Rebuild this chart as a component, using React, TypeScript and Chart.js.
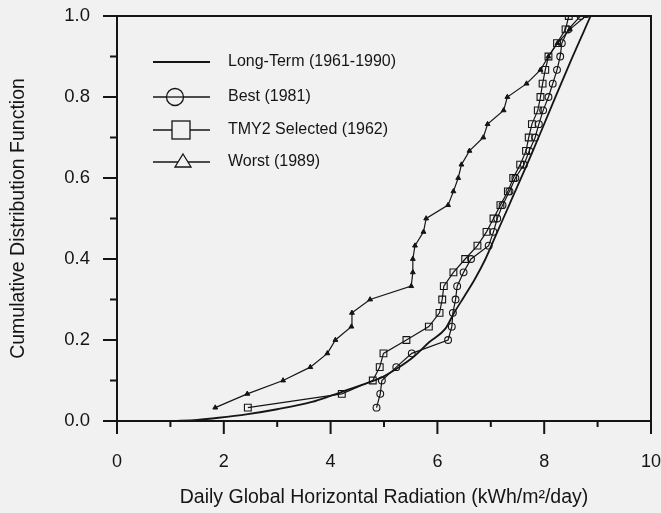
import React, { useEffect, useRef } from "react";
import { Chart, registerables } from "chart.js";

Chart.register(...registerables);

// Cumulative fraction levels (one step per day of a 30-day month)
const cumulativeFraction = [
  0.033, 0.067, 0.1, 0.133, 0.167, 0.2, 0.233, 0.267, 0.3, 0.333,
  0.367, 0.4, 0.433, 0.467, 0.5, 0.533, 0.567, 0.6, 0.633, 0.667,
  0.7, 0.733, 0.767, 0.8, 0.833, 0.867, 0.9, 0.933, 0.967, 1.0,
];

const bestRadiation = [
  4.86, 4.93, 4.96, 5.23, 5.52, 6.2, 6.27, 6.29, 6.34, 6.37,
  6.49, 6.63, 6.96, 7.05, 7.12, 7.22, 7.35, 7.46, 7.62, 7.72,
  7.83, 7.9, 7.98, 8.08, 8.16, 8.24, 8.3, 8.33, 8.45, 8.68,
];

const tmy2Radiation = [
  2.45, 4.21, 4.79, 4.92, 4.99, 5.42, 5.84, 6.04, 6.09, 6.12,
  6.3, 6.52, 6.75, 6.92, 7.05, 7.18, 7.32, 7.42, 7.55, 7.66,
  7.71, 7.77, 7.88, 7.93, 7.97, 8.02, 8.08, 8.24, 8.4, 8.46,
];

const worstRadiation = [
  1.84, 2.44, 3.11, 3.62, 3.94, 4.09, 4.39, 4.4, 4.74, 5.51,
  5.54, 5.54, 5.58, 5.74, 5.79, 6.2, 6.3, 6.39, 6.45, 6.6,
  6.86, 6.94, 7.24, 7.31, 7.67, 7.93, 8.08, 8.25, 8.48, 8.78,
];

const longTermRadiation = [
  1.05, 1.5, 1.9, 2.45, 3.0, 3.65, 4.0, 4.3, 4.6, 4.95, 5.25, 5.55,
  5.85, 6.15, 6.3, 6.5, 6.7, 6.9, 7.1, 7.35, 7.75, 8.1, 8.5, 8.87,
];
const longTermFraction = [
  0.0, 0.003, 0.008, 0.017, 0.029, 0.047, 0.062, 0.076, 0.09, 0.107, 0.13, 0.158,
  0.195, 0.228, 0.264, 0.307, 0.35, 0.4, 0.46, 0.535, 0.655, 0.765, 0.89, 1.0,
];

const seriesNames = [
  "Long-Term (1961-1990)",
  "Best (1981)",
  "TMY2 Selected (1962)",
  "Worst (1989)",
];

const xTitle = "Daily Global Horizontal Radiation (kWh/m\u00B2/day)";
const yTitle = "Cumulative Distribution Function";
const xMinorTicks = [1, 3, 5, 7, 9];
const yMinorTicks = [0.1, 0.3, 0.5, 0.7, 0.9];
const xMajorTicks = [0, 2, 4, 6, 8, 10];
const yMajorTicks = [0, 0.2, 0.4, 0.6, 0.8, 1.0];

const INK = "#151515";
const BG = "#f1f1f1";
const FONT = "'Liberation Sans', Arial, Helvetica, sans-serif";

function pairs(xs: number[], ys: number[]) {
  return xs.map((x, i) => ({ x, y: ys[i] }));
}

const framePlugin = {
  id: "frameAndLegend",
  beforeDraw(chart: any) {
    const ctx = chart.ctx;
    ctx.save();
    ctx.fillStyle = BG;
    ctx.fillRect(0, 0, chart.width, chart.height);
    ctx.restore();
  },
  afterDraw(chart: any) {
    const ctx = chart.ctx;
    const { left, right, top, bottom } = chart.chartArea;
    const xs = chart.scales.x;
    const ys = chart.scales.y;
    ctx.save();
    ctx.strokeStyle = INK;
    ctx.lineWidth = 2;
    // frame top & right
    ctx.beginPath();
    ctx.moveTo(left, top);
    ctx.lineTo(right, top);
    ctx.lineTo(right, bottom);
    ctx.stroke();
    // ticks
    ctx.beginPath();
    yMajorTicks.forEach((v) => {
      const p = ys.getPixelForValue(v);
      ctx.moveTo(left - 14, p);
      ctx.lineTo(left, p);
    });
    yMinorTicks.forEach((v) => {
      const p = ys.getPixelForValue(v);
      ctx.moveTo(left - 7, p);
      ctx.lineTo(left, p);
    });
    xMajorTicks.forEach((v) => {
      const p = xs.getPixelForValue(v);
      ctx.moveTo(p, bottom);
      ctx.lineTo(p, bottom + 13);
    });
    xMinorTicks.forEach((v) => {
      const p = xs.getPixelForValue(v);
      ctx.moveTo(p, bottom);
      ctx.lineTo(p, bottom + 6);
    });
    ctx.stroke();

    // legend
    const rows = [62, 97, 130, 162];
    const x0 = 153;
    const x1 = 210;
    ctx.font = `16px ${FONT}`;
    ctx.textBaseline = "middle";
    ctx.textAlign = "left";
    rows.forEach((ry, i) => {
      ctx.strokeStyle = INK;
      ctx.lineWidth = i === 0 ? 2 : 1.3;
      ctx.beginPath();
      ctx.moveTo(x0, ry);
      ctx.lineTo(x1, ry);
      ctx.stroke();
      ctx.lineWidth = 1.3;
      if (i === 1) {
        ctx.fillStyle = BG;
        ctx.beginPath();
        ctx.arc(175, ry, 8.5, 0, Math.PI * 2);
        ctx.fill();
        ctx.stroke();
        ctx.beginPath();
        ctx.moveTo(166, ry);
        ctx.lineTo(184, ry);
        ctx.stroke();
      } else if (i === 2) {
        ctx.fillStyle = BG;
        ctx.fillRect(172, ry - 9, 18, 18);
        ctx.strokeRect(172, ry - 9, 18, 18);
      } else if (i === 3) {
        ctx.fillStyle = BG;
        ctx.beginPath();
        ctx.moveTo(183, ry - 8);
        ctx.lineTo(191, ry + 5);
        ctx.lineTo(175, ry + 5);
        ctx.closePath();
        ctx.fill();
        ctx.stroke();
      }
      ctx.fillStyle = INK;
      ctx.fillText(seriesNames[i], 228, ry);
    });
    ctx.restore();
  },
};

export default function App() {
  const ref = useRef<HTMLCanvasElement | null>(null);

  useEffect(() => {
    if (!ref.current) return;
    const chart = new Chart(ref.current, {
      type: "line",
      data: {
        datasets: [
          {
            label: seriesNames[0],
            data: pairs(longTermRadiation, longTermFraction),
            borderColor: INK,
            borderWidth: 1.8,
            pointRadius: 0,
            cubicInterpolationMode: "monotone",
          },
          {
            label: seriesNames[1],
            data: pairs(bestRadiation, cumulativeFraction),
            borderColor: INK,
            borderWidth: 1.2,
            pointStyle: "circle",
            pointRadius: 3.4,
            pointBorderWidth: 1.1,
            pointBorderColor: INK,
            pointBackgroundColor: "rgba(0,0,0,0)",
          },
          {
            label: seriesNames[2],
            data: pairs(tmy2Radiation, cumulativeFraction),
            borderColor: INK,
            borderWidth: 1.2,
            pointStyle: "rect",
            pointRadius: 4.8,
            pointBorderWidth: 1.1,
            pointBorderColor: INK,
            pointBackgroundColor: "rgba(0,0,0,0)",
          },
          {
            label: seriesNames[3],
            data: pairs(worstRadiation, cumulativeFraction),
            borderColor: INK,
            borderWidth: 1.2,
            pointStyle: "triangle",
            pointRadius: 2.8,
            pointBorderWidth: 1,
            pointBorderColor: INK,
            pointBackgroundColor: INK,
          },
        ],
      },
      options: {
        responsive: false,
        animation: false,
        devicePixelRatio: 1,
        layout: { padding: { top: 16, right: 10, left: 0, bottom: 0 } },
        plugins: {
          legend: { display: false },
          tooltip: { enabled: false },
        },
        scales: {
          x: {
            type: "linear",
            min: 0,
            max: 10,
            afterFit: (s: any) => {
              s.height = 92;
              s.paddingLeft = 0;
              s.paddingRight = 0;
            },
            ticks: {
              stepSize: 2,
              padding: 30,
              color: INK,
              font: { family: FONT, size: 18 },
              callback: (v: any) => String(v),
            },
            grid: { display: true, drawOnChartArea: false, drawTicks: false },
            border: { display: true, color: INK, width: 2 },
            title: {
              display: true,
              text: xTitle,
              color: INK,
              font: { family: FONT, size: 19.5 },
              padding: { top: 0, bottom: 4 },
            },
          },
          y: {
            type: "linear",
            min: 0,
            max: 1,
            afterFit: (s: any) => {
              s.width = 117;
              s.paddingTop = 0;
              s.paddingBottom = 0;
            },
            ticks: {
              stepSize: 0.2,
              padding: 27,
              color: INK,
              font: { family: FONT, size: 18.5 },
              callback: (v: any) => Number(v).toFixed(1),
            },
            grid: { display: true, drawOnChartArea: false, drawTicks: false },
            border: { display: true, color: INK, width: 2 },
            title: {
              display: true,
              text: yTitle,
              color: INK,
              font: { family: FONT, size: 19.5 },
              padding: { top: 7, bottom: 0 },
            },
          },
        },
      },
      plugins: [framePlugin],
    } as any);
    return () => chart.destroy();
  }, []);

  return (
    <div style={{ position: "fixed", left: 0, top: 0, width: 661, height: 513, background: BG }}>
      <canvas ref={ref} width={661} height={513} style={{ display: "block" }} />
    </div>
  );
}
